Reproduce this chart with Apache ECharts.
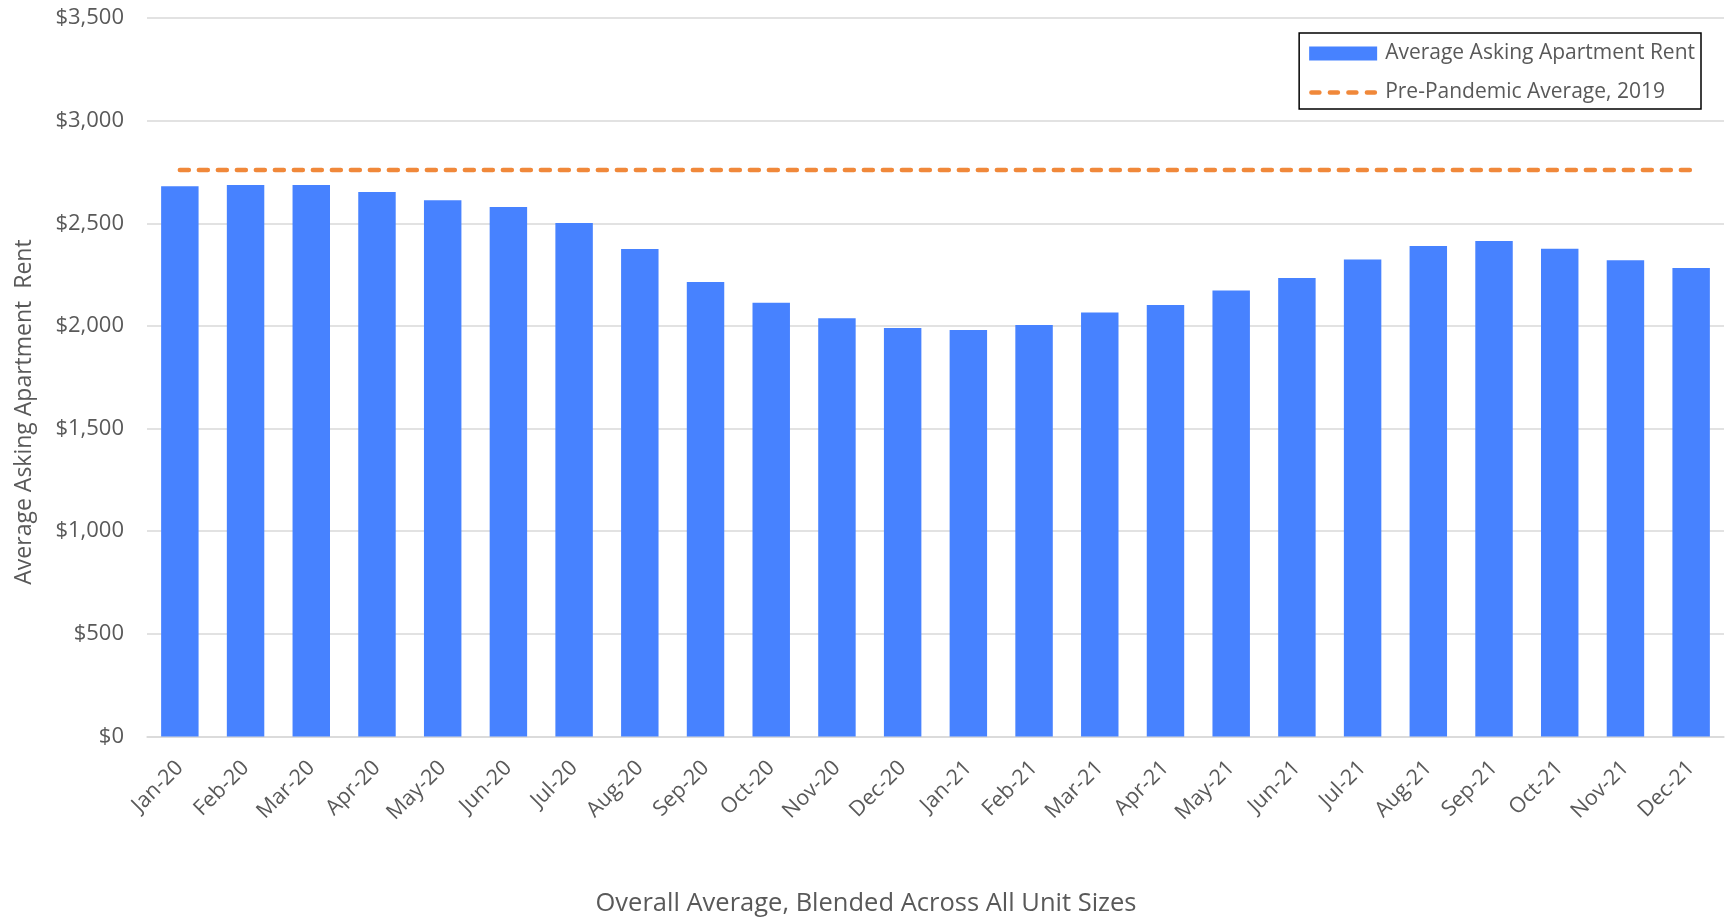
<!DOCTYPE html>
<html>
<head>
<meta charset="utf-8">
<script src="https://cdn.jsdelivr.net/npm/echarts@6/dist/echarts.min.js"></script>
<style>
html,body{margin:0;padding:0;background:#fff;}
#chart{width:1727px;height:919px;}
</style>
</head>
<body>
<div id="chart"></div>
<script>
const categories = ['Jan-20','Feb-20','Mar-20','Apr-20','May-20','Jun-20','Jul-20','Aug-20','Sep-20','Oct-20','Nov-20','Dec-20',
  'Jan-21','Feb-21','Mar-21','Apr-21','May-21','Jun-21','Jul-21','Aug-21','Sep-21','Oct-21','Nov-21','Dec-21'];
const rentValues = [2681,2686,2686,2652,2612,2579,2501,2375,2214,2113,2038,1990,
  1980,2004,2066,2102,2173,2233,2324,2389,2414,2376,2320,2282];
const prePandemicAverage = [2760,2760,2760,2760,2760,2760,2760,2760,2760,2760,2760,2760,
  2760,2760,2760,2760,2760,2760,2760,2760,2760,2760,2760,2760];
const seriesNames = ['Average Asking Apartment Rent','Pre-Pandemic Average, 2019'];
const yAxisTitle = 'Average Asking Apartment  Rent';
const xAxisTitle = 'Overall Average, Blended Across All Unit Sizes';

const FONT = 'Open Sans';
const TEXT = '#595959';
const ORANGE = '#F0883A';
// dashed legend icon: four rounded dashes (68 x 4.5 units)
function dash(x0,x1){const r=2.25;return 'M'+(x0+r)+' 0 H'+(x1-r)+' A'+r+' '+r+' 0 0 1 '+(x1-r)+' 4.5 H'+(x0+r)+' A'+r+' '+r+' 0 0 1 '+(x0+r)+' 0 Z ';}
const dashIcon = 'path://' + dash(0,12.5) + dash(18.5,31) + dash(37,49.5) + dash(55.5,68);

const chart = echarts.init(document.getElementById('chart'), null, {renderer:'canvas'});
chart.setOption({
  animation:false,
  backgroundColor:'#fff',
  textStyle:{fontFamily:FONT},
  grid:{left:147,right:3,top:18,bottom:182.5,containLabel:false},
  legend:{
    orient:'vertical', right:26, top:33,
    padding:[10,6,6,10],
    itemGap:18, itemWidth:68, itemHeight:14,
    borderColor:'#000', borderWidth:1.5, backgroundColor:'#fff',
    textStyle:{fontFamily:FONT,fontSize:21,color:TEXT,padding:[0,0,0,3]},
    data:[{name:seriesNames[0],icon:'rect'},{name:seriesNames[1],icon:dashIcon,itemStyle:{color:ORANGE}}]
  },
  xAxis:{
    type:'category', data:categories,
    axisLine:{show:true,lineStyle:{color:'#d9d9d9',width:1.5}},
    axisTick:{show:false},
    axisLabel:{rotate:45,margin:28,fontFamily:FONT,fontSize:21.5,color:TEXT,interval:0}
  },
  yAxis:{
    type:'value', min:0, max:3500, interval:500,
    axisLine:{show:false}, axisTick:{show:false},
    splitLine:{lineStyle:{color:'#d9d9d9',width:1.5}},
    axisLabel:{margin:23,fontFamily:FONT,fontSize:22,color:TEXT,
      formatter:v=>'$'+v.toLocaleString('en-US')}
  },
  graphic:[
    {type:'text',x:24,y:412,rotation:Math.PI/2,
      style:{text:yAxisTitle,fill:TEXT,font:'23px "Open Sans"',align:'center',verticalAlign:'middle'}},
    {type:'text',x:866,y:904,
      style:{text:xAxisTitle,fill:TEXT,font:'25.5px "Open Sans"',align:'center',verticalAlign:'middle'}}
  ],
  series:[
    {name:seriesNames[0],type:'bar',data:rentValues,barCategoryGap:'43%',
      itemStyle:{color:'#4782FF'}},
    {name:seriesNames[1],type:'line',data:prePandemicAverage,symbol:'none',showSymbol:false,
      itemStyle:{color:ORANGE},
      lineStyle:{color:ORANGE,width:4.5,type:[9,10],cap:'round'}}
  ]
});
</script>
</body>
</html>
